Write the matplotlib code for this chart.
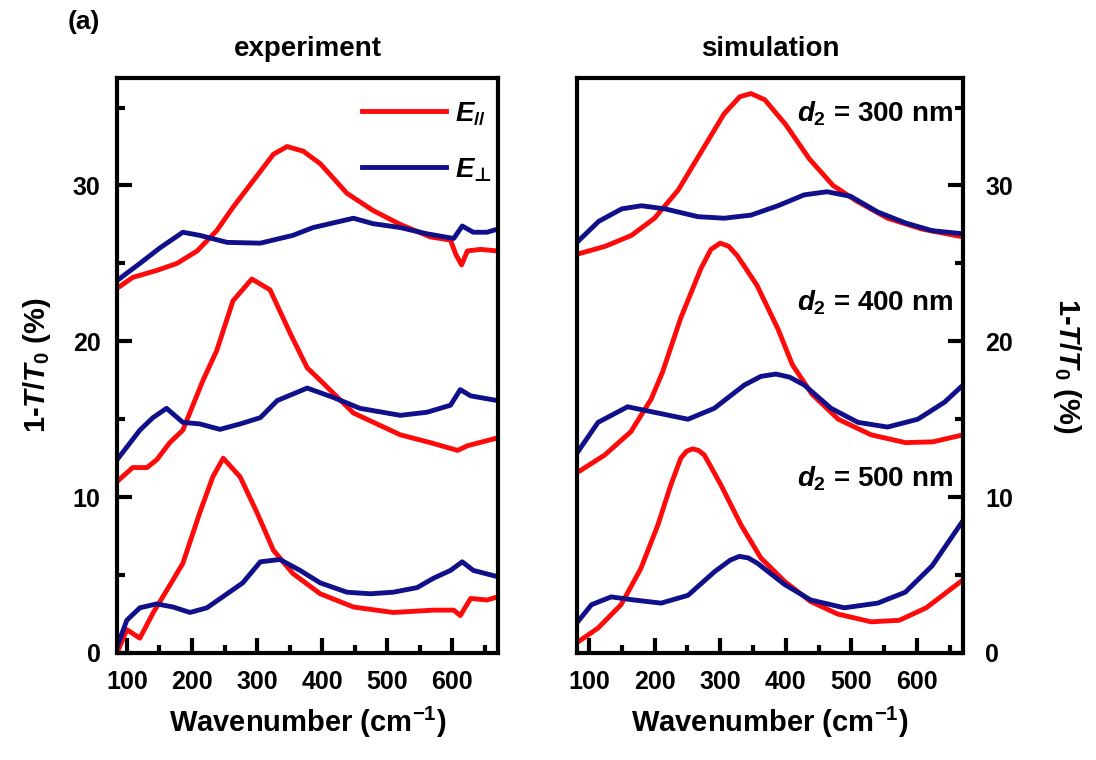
import numpy as np
import matplotlib
matplotlib.use("Agg")
import matplotlib.pyplot as plt
from matplotlib.ticker import MultipleLocator

plt.rcParams['font.family'] = ['Liberation Sans', 'DejaVu Sans']
plt.rcParams['font.weight'] = 'bold'
plt.rcParams['axes.labelweight'] = 'bold'
plt.rcParams['axes.titleweight'] = 'bold'
plt.rcParams['mathtext.fontset'] = 'custom'
plt.rcParams['mathtext.rm'] = 'Liberation Sans:bold'
plt.rcParams['mathtext.it'] = 'Liberation Sans:italic:bold'
plt.rcParams['mathtext.bf'] = 'Liberation Sans:bold'
plt.rcParams['mathtext.sf'] = 'DejaVu Sans'

RED = '#ff0a0a'
BLUE = '#10108a'

# ---- experiment, d2 = 300 nm ----
exp300_par_x = [85, 109, 146, 177, 208, 238, 263, 294, 325, 346, 371, 397, 438, 478, 520, 566, 597, 605, 614, 623, 643, 669]
exp300_par_y = [23.4, 24.1, 24.55, 25.0, 25.8, 27.1, 28.6, 30.3, 32.0, 32.5, 32.2, 31.4, 29.5, 28.4, 27.5, 26.7, 26.5, 25.6, 24.9, 25.8, 25.9, 25.8]
exp300_per_x = [85, 120, 151, 186, 212, 254, 305, 355, 386, 417, 448, 478, 520, 561, 602, 615, 632, 653, 669]
exp300_per_y = [23.9, 25.0, 26.0, 27.0, 26.8, 26.35, 26.3, 26.8, 27.3, 27.6, 27.9, 27.55, 27.3, 26.9, 26.6, 27.4, 27.0, 27.0, 27.2]

# ---- experiment, d2 = 400 nm ----
exp400_par_x = [85, 109, 131, 146, 166, 186, 217, 238, 263, 292, 320, 351, 377, 397, 448, 520, 566, 608, 623, 669]
exp400_par_y = [11.0, 11.9, 11.9, 12.4, 13.5, 14.3, 17.5, 19.4, 22.6, 24.0, 23.3, 20.5, 18.3, 17.5, 15.4, 14.0, 13.5, 13.0, 13.3, 13.8]
exp400_per_x = [85, 120, 140, 161, 186, 212, 243, 274, 305, 331, 377, 417, 458, 520, 561, 597, 612, 628, 669]
exp400_per_y = [12.4, 14.3, 15.1, 15.7, 14.8, 14.7, 14.35, 14.7, 15.1, 16.2, 17.0, 16.4, 15.7, 15.25, 15.45, 15.9, 16.9, 16.5, 16.2]

# ---- experiment, d2 = 500 nm ----
exp500_par_x = [85, 100, 120, 140, 161, 186, 212, 232, 248, 274, 300, 325, 355, 397, 448, 509, 571, 602, 612, 628, 653, 669]
exp500_par_y = [0.0, 1.5, 0.95, 2.55, 4.0, 5.75, 9.0, 11.3, 12.5, 11.3, 9.0, 6.6, 5.1, 3.8, 2.95, 2.6, 2.75, 2.75, 2.4, 3.5, 3.4, 3.6]
exp500_per_x = [85, 100, 120, 146, 171, 197, 223, 254, 278, 305, 335, 366, 397, 438, 474, 509, 546, 571, 597, 615, 632, 669]
exp500_per_y = [0.4, 2.1, 2.9, 3.15, 2.95, 2.6, 2.9, 3.8, 4.5, 5.85, 6.0, 5.3, 4.5, 3.9, 3.8, 3.9, 4.2, 4.8, 5.3, 5.85, 5.3, 4.9]

# ---- simulation, d2 = 300 nm ----
sim300_par_x = [83, 125, 165, 200, 236, 276, 306, 330, 347, 368, 400, 436, 472, 508, 555, 608, 670]
sim300_par_y = [25.6, 26.1, 26.8, 27.9, 29.7, 32.5, 34.6, 35.7, 35.9, 35.5, 33.9, 31.7, 30.0, 29.0, 27.9, 27.2, 26.7]
sim300_per_x = [83, 115, 150, 180, 216, 266, 306, 347, 388, 428, 463, 499, 540, 582, 623, 670]
sim300_per_y = [26.4, 27.7, 28.5, 28.7, 28.5, 28.0, 27.9, 28.1, 28.7, 29.4, 29.6, 29.3, 28.3, 27.6, 27.1, 26.9]

# ---- simulation, d2 = 400 nm ----
sim400_par_x = [83, 124, 164, 195, 212, 240, 271, 286, 300, 313, 326, 356, 388, 410, 440, 480, 530, 582, 624, 670]
sim400_par_y = [11.6, 12.7, 14.2, 16.3, 18.0, 21.5, 24.7, 25.9, 26.3, 26.1, 25.5, 23.6, 20.8, 18.5, 16.6, 15.0, 14.0, 13.5, 13.55, 14.0]
sim400_per_x = [83, 114, 159, 205, 251, 291, 337, 362, 385, 406, 428, 469, 510, 555, 601, 642, 670]
sim400_per_y = [12.9, 14.8, 15.8, 15.4, 15.0, 15.7, 17.2, 17.75, 17.9, 17.7, 17.2, 15.7, 14.8, 14.5, 15.0, 16.1, 17.2]

# ---- simulation, d2 = 500 nm ----
sim500_par_x = [83, 114, 149, 179, 205, 225, 240, 249, 258, 267, 276, 301, 332, 362, 398, 438, 479, 530, 573, 614, 670]
sim500_par_y = [0.7, 1.6, 3.1, 5.4, 8.2, 10.8, 12.5, 12.95, 13.1, 13.0, 12.7, 10.8, 8.2, 6.1, 4.6, 3.3, 2.5, 2.0, 2.1, 2.9, 4.7]
sim500_per_x = [83, 104, 134, 169, 210, 251, 291, 315, 329, 343, 357, 398, 438, 489, 540, 582, 623, 670]
sim500_per_y = [2.0, 3.1, 3.6, 3.4, 3.2, 3.7, 5.2, 5.95, 6.2, 6.1, 5.75, 4.4, 3.4, 2.9, 3.2, 3.9, 5.6, 8.5]

thickness_labels = [r'$d_2$ = 300 nm', r'$d_2$ = 400 nm', r'$d_2$ = 500 nm']
thickness_label_y = [34.6, 22.5, 11.2]

fig = plt.figure(figsize=(10.96, 7.6), dpi=100)
ax1 = fig.add_axes([0.1068, 0.1408, 0.3476, 0.7566])
ax2 = fig.add_axes([0.5265, 0.1408, 0.3522, 0.7566])

lw = 3.5
ax1.plot(exp300_par_x, exp300_par_y, color=RED, lw=lw, label=r'$E_{//}$')
ax1.plot(exp300_per_x, exp300_per_y, color=BLUE, lw=lw, label=r'$E_{\mathsf{⊥}}$')
ax1.plot(exp400_par_x, exp400_par_y, color=RED, lw=lw)
ax1.plot(exp400_per_x, exp400_per_y, color=BLUE, lw=lw)
ax1.plot(exp500_par_x, exp500_par_y, color=RED, lw=lw)
ax1.plot(exp500_per_x, exp500_per_y, color=BLUE, lw=lw)

ax2.plot(sim300_par_x, sim300_par_y, color=RED, lw=lw)
ax2.plot(sim300_per_x, sim300_per_y, color=BLUE, lw=lw)
ax2.plot(sim400_par_x, sim400_par_y, color=RED, lw=lw)
ax2.plot(sim400_per_x, sim400_per_y, color=BLUE, lw=lw)
ax2.plot(sim500_par_x, sim500_par_y, color=RED, lw=lw)
ax2.plot(sim500_per_x, sim500_per_y, color=BLUE, lw=lw)

for ax in (ax1, ax2):
    ax.set_ylim(0, 36.9)
    ax.xaxis.set_major_locator(MultipleLocator(100))
    ax.xaxis.set_minor_locator(MultipleLocator(50))
    ax.yaxis.set_major_locator(MultipleLocator(10))
    ax.yaxis.set_minor_locator(MultipleLocator(5))
    for s in ax.spines.values():
        s.set_linewidth(3)
    ax.tick_params(which='both', direction='in', width=3, labelsize=18, top=False)
    ax.tick_params(which='major', length=11, pad=12)
    ax.tick_params(which='minor', length=6)
    ax.set_xlabel(r'Wavenumber (cm$^{-1}$)', fontsize=21, labelpad=8)
    for lab in ax.get_xticklabels() + ax.get_yticklabels():
        lab.set_fontweight('bold')

ax1.set_xlim(85, 670)
ax2.set_xlim(82, 670)
ax1.tick_params(which='both', left=True, right=False)
ax2.tick_params(which='both', left=False, right=True, labelleft=False, labelright=True)
ax2.tick_params(axis='y', which='major', pad=16)
ax1.set_ylabel(r'1-$T$/$T_0$ (%)', fontsize=21, labelpad=14)
ax2.yaxis.set_label_position('right')
ax2.set_ylabel(r'1-$T$/$T_0$ (%)', fontsize=21, labelpad=50, rotation=270)

ax1.set_title('experiment', fontsize=20, pad=16)
ax2.set_title('simulation', fontsize=20, pad=16)

for lbl, yy in zip(thickness_labels, thickness_label_y):
    ax2.text(0.975, yy, lbl, transform=ax2.get_yaxis_transform(), ha='right', va='center',
             fontsize=20)

leg = ax1.legend(loc='upper right', bbox_to_anchor=(1.05, 1.005), frameon=False, fontsize=20,
                 handlelength=3.0, handletextpad=0.35, labelspacing=1.05)

fig.text(0.062, 0.971, '(a)', fontsize=19, ha='left', va='center')

fig.savefig('out.png', dpi=100)
